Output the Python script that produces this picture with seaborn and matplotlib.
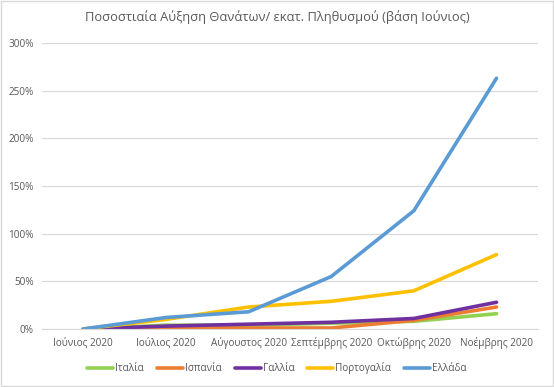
import numpy as np
import pandas as pd
import seaborn as sns
import matplotlib.pyplot as plt
from matplotlib.ticker import PercentFormatter

months = ["Ιούνιος 2020", "Ιούλιος 2020", "Αύγουστος 2020",
          "Σεπτέμβρης 2020", "Οκτώβρης 2020", "Νοέμβρης 2020"]
italy = [0, 4, 4, 6, 8, 16]
spain = [0, 1, 1, 1, 9, 23]
france = [0, 3, 5, 7, 11, 28]
portugal = [0, 10, 23, 29, 40, 78]
greece = [0, 12, 18, 55, 124, 263]

countries = ["Ιταλία", "Ισπανία", "Γαλλία", "Πορτογαλία", "Ελλάδα"]
colors = ["#92D050", "#ED7D31", "#7030A0", "#FFC000", "#5B9BD5"]

rows = []
for name, vals in zip(countries, [italy, spain, france, portugal, greece]):
    for i, v in enumerate(vals):
        rows.append({"pos": i, "country": name, "value": v})
df = pd.DataFrame(rows)

sns.set_style("white")
plt.rcParams["font.family"] = ["Open Sans", "DejaVu Sans"]
txt = "#595959"

fig = plt.figure(figsize=(5.54, 3.87), dpi=100)
ax = fig.add_axes([0.0758, 0.150, 0.895, 0.739])
sns.lineplot(data=df, x="pos", y="value", hue="country", hue_order=countries,
             palette=colors, linewidth=2.6, ax=ax, legend=True)

ax.set_xlim(-0.5, 5.5)
ax.set_ylim(0, 300)
ax.set_yticks(range(0, 301, 50))
ax.yaxis.set_major_formatter(PercentFormatter(decimals=0))
ax.set_xticks(range(len(months)))
ax.set_xticklabels(months)
ax.tick_params(axis="both", labelsize=7.2, colors=txt, length=0, pad=6)
ax.grid(axis="y", color="#D9D9D9", linewidth=0.9)
ax.set_axisbelow(True)
for s in ["top", "right", "left"]:
    ax.spines[s].set_visible(False)
ax.spines["bottom"].set_color("#D9D9D9")
ax.set_xlabel("")
ax.set_ylabel("")

fig.text(0.5, 0.955, "Ποσοστιαία Αύξηση Θανάτων/ εκατ. Πληθυσμού (βάση Ιούνιος)",
         ha="center", va="center", fontsize=9.3, color=txt)

handles, labels = ax.get_legend_handles_labels()
ax.legend(handles, labels, loc="center", bbox_to_anchor=(0.5, 0.048),
          bbox_transform=fig.transFigure, ncol=5, frameon=False, fontsize=7.2,
          labelcolor=txt, handlelength=2.6, handletextpad=0.2, columnspacing=1.3)

fig.patches.append(plt.Rectangle((0.002, 0.003), 0.996, 0.994, transform=fig.transFigure,
                                 fill=False, edgecolor="#D9D9D9", linewidth=1))

fig.savefig("out.png", dpi=100)
